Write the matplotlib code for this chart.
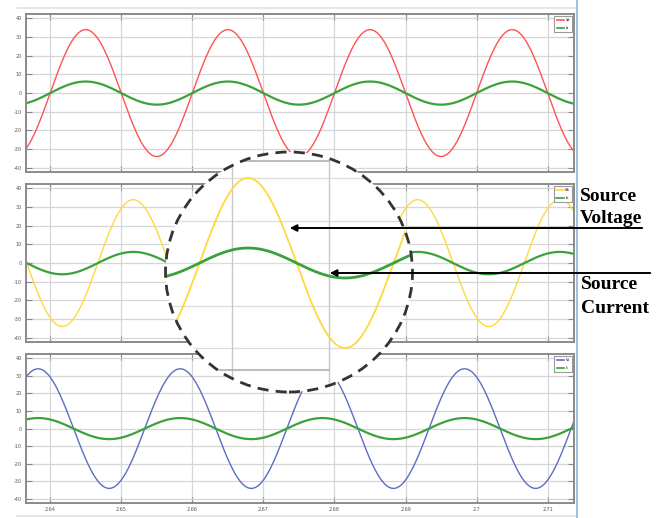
import numpy as np
import matplotlib.pyplot as plt
from matplotlib.patches import Ellipse, FancyArrowPatch
from matplotlib.lines import Line2D

# phase waveforms: amplitude and time of a positive peak (s), 50 Hz supply
freq = 50.0
volt_amp = [34.0, 34.0, 34.0]
curr_amp = [6.2, 6.0, 6.0]
peak_time = [2.6450, 2.6517, 2.6583]
volt_colors = ["#ff5252", "#ffd83c", "#5b6dc4"]
curr_color = "#3aa23a"
legend_labels = [["Va", "Ia"], ["Vb", "Ib"], ["Vc", "Ic"]]

xticks = [2.64, 2.65, 2.66, 2.67, 2.68, 2.69, 2.70, 2.71]
xtick_labels = ["2.64", "2.65", "2.66", "2.67", "2.68", "2.69", "2.7", "2.71"]
yticks = [-40, -30, -20, -10, 0, 10, 20, 30, 40]
xlim = (2.6366, 2.7137)
ylim = (-42.3, 42.4)

W, H = 662, 518


def box(left, top, right, bottom):
    return [left / W, 1 - bottom / H, (right - left) / W, (bottom - top) / H]


def fig_xy(x, y):
    return (x / W, 1 - y / H)


t = np.linspace(2.62, 2.73, 4000)

fig = plt.figure(figsize=(6.62, 5.18), dpi=100)

panels = [box(26, 14, 574, 172), box(26, 184, 574, 342), box(26, 354, 574, 503)]
for i, rect in enumerate(panels):
    ax = fig.add_axes(rect)
    v = volt_amp[i] * np.cos(2 * np.pi * freq * (t - peak_time[i]))
    c = curr_amp[i] * np.cos(2 * np.pi * freq * (t - peak_time[i]))
    ax.plot(t, v, color=volt_colors[i], lw=1.0, label=legend_labels[i][0])
    ax.plot(t, c, color=curr_color, lw=1.6, label=legend_labels[i][1])
    ax.set_xlim(*xlim)
    ax.set_ylim(*ylim)
    ax.set_xticks(xticks)
    ax.set_yticks(yticks)
    ax.set_yticklabels([str(v) for v in yticks], fontsize=3.5, color="#555555")
    if i == 2:
        ax.set_xticklabels(xtick_labels, fontsize=3.5, color="#555555")
    else:
        ax.set_xticklabels([])
    ax.tick_params(direction="in", length=4, width=0.8, color="#888888",
                   right=True, top=True, pad=3)
    ax.grid(True, color="#d6d6d6", lw=0.9)
    for s in ax.spines.values():
        s.set_color("#8a8a8a")
        s.set_linewidth(1.4)
    leg = ax.legend(loc="upper right", fontsize=2.6, handlelength=2.2,
                    borderpad=0.6, labelspacing=1.2, handletextpad=0.3,
                    borderaxespad=0.5, fancybox=False, framealpha=1)
    leg.get_frame().set_edgecolor("#9a9a9a")
    leg.get_frame().set_linewidth(0.8)
    for line in leg.get_lines():
        line.set_linewidth(1.2)

# magnified view of the middle panel inside a dashed circle
inset_rect = box(165, 152, 412, 392)
ins = fig.add_axes(inset_rect)
ins.set_axis_off()
ins.set_xlim(2.66314, 2.68860)
ins.set_ylim(-51.6, 44.4)

center = fig_xy(289, 272)
ew, eh = 247 / W, 240 / H
bg = Ellipse(center, ew, eh, transform=fig.transFigure,
             facecolor="white", edgecolor="none", zorder=0)
ins.add_artist(bg)
clip = Ellipse(center, ew, eh, transform=fig.transFigure)

inset_artists = []
for gy in [-34, -17, 0, 17, 34]:
    inset_artists.append(ins.axhline(gy, color="#dcdcdc", lw=0.9, zorder=1))
for gx in [2.67, 2.68]:
    inset_artists.append(ins.axvline(gx, color="#c8c8c8", lw=1.0, zorder=1))
inset_artists.append(ins.plot([2.62, 2.68], [41.0, 41.0], color="#b0b0b0", lw=1.2)[0])
inset_artists.append(ins.plot([2.62, 2.68], [-42.8, -42.8], color="#b0b0b0", lw=1.2)[0])
inset_artists.append(ins.plot(t, volt_amp[1] * np.cos(2 * np.pi * freq * (t - peak_time[1])),
                              color=volt_colors[1], lw=1.3, zorder=2)[0])
inset_artists.append(ins.plot(t, curr_amp[1] * np.cos(2 * np.pi * freq * (t - peak_time[1])),
                              color=curr_color, lw=2.0, zorder=3)[0])
for a in inset_artists:
    a.set_clip_path(clip)

ring = Ellipse(center, ew, eh, transform=fig.transFigure, facecolor="none",
               edgecolor="#333333", lw=2.0, linestyle=(0, (4, 2.6)), zorder=6)
fig.add_artist(ring)

# arrows pointing at the voltage and current traces
for (x0, y0), (x1, y1) in [((645, 228), (287, 228)), ((653, 273), (327, 273))]:
    arr = FancyArrowPatch(fig_xy(x0, y0), fig_xy(x1, y1), transform=fig.transFigure,
                          arrowstyle="-|>", mutation_scale=10, color="black",
                          lw=1.4, zorder=7)
    fig.add_artist(arr)

label_font = dict(family="Liberation Serif", weight="bold", size=14, color="black")
fig.text(*fig_xy(580, 201), "Source", va="baseline", **label_font)
fig.text(*fig_xy(580, 223), "Voltage", va="baseline", **label_font)
fig.text(*fig_xy(581, 289), "Source", va="baseline", **label_font)
fig.text(*fig_xy(581, 313), "Current", va="baseline", **label_font)

# window edges around the plots
fig.add_artist(Line2D([17 / W, 577 / W], [1 - 8 / H, 1 - 8 / H], color="#e2e2e2", lw=1.2))
fig.add_artist(Line2D([17 / W, 577 / W], [1 - 516 / H, 1 - 516 / H], color="#e2e2e2", lw=1.2))
fig.add_artist(Line2D([577 / W, 577 / W], [0, 1], color="#8fb3d9", lw=1.2))

fig.savefig("out.png", dpi=100)
